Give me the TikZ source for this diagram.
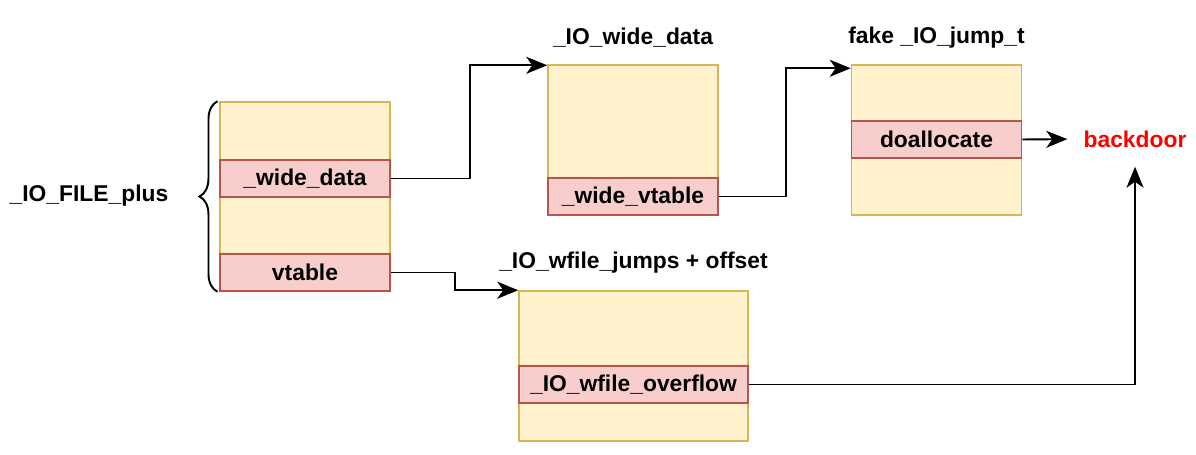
\documentclass[tikz,border=0pt]{standalone}
\usepackage{fontspec}
\setmainfont{Liberation Sans}
\usetikzlibrary{positioning, arrows.meta, decorations.pathreplacing}

\definecolor{structfill}{HTML}{FFF2CC}
\definecolor{structdraw}{HTML}{D6B656}
\definecolor{fieldfill}{HTML}{F8CECC}
\definecolor{fielddraw}{HTML}{B85450}

\begin{document}
\begin{tikzpicture}[
    x=0.02cm, y=-0.02cm,
    arrow/.style={
        -{Stealth[length=4.2mm, width=3.4mm, inset=1.2mm]},
        line width=1.1pt
    },
    struct/.style={
        rectangle,
        fill=structfill,
        draw=structdraw,
        line width=0.9pt,
        minimum width=3.4cm,
        minimum height=3.0cm
    },
    field/.style={
        rectangle,
        fill=fieldfill,
        draw=fielddraw,
        line width=0.9pt,
        minimum width=3.4cm,
        minimum height=0.74cm,
        font=\fontsize{13}{15}\selectfont\bfseries
    },
    title/.style={
        font=\fontsize{13}{15}\selectfont\bfseries
    },
    brace/.style={
        decorate,
        decoration={brace, amplitude=0.36cm},
        line width=1.1pt
    }
]
    \useasboundingbox (0,0) rectangle (1196,455);

    % _IO_FILE_plus
    \node[struct, minimum height=3.78cm] (file) at (305,196.5) {};
    \node[field] (widedata) at (305,178.5) {\_wide\_data};
    \node[field] (vtable) at (305,272.5) {vtable};
    \draw[brace] ([xshift=-1pt]file.south west) -- ([xshift=-1pt]file.north west);
    \node[title] (fileplus) at (89,196) {\_IO\_FILE\_plus};

    % _IO_wide_data
    \node[struct] (wdata) at (633,140) {};
    \node[field] (wvtable) at (633,196.5) {\_wide\_vtable};
    \node[title] (wdatatitle) at (633,38) {\_IO\_wide\_data};

    % fake _IO_jump_t
    \node[struct] (jump) at (936.5,140) {};
    \node[field] (doalloc) at (936.5,139.5) {doallocate};
    \node[title] (jumptitle) at (936.5,38) {fake \_IO\_jump\_t};

    % _IO_wfile_jumps + offset
    \node[struct, minimum width=4.58cm] (wfile) at (633.5,366) {};
    \node[field, minimum width=4.58cm] (overflow) at (633.5,384.5) {\_IO\_wfile\_overflow};
    \node[title] (wfiletitle) at (633.5,263) {\_IO\_wfile\_jumps + offset};

    \node[title, text=red, inner sep=0pt] (backdoor) at (1135,139) {backdoor};

    % Connections
    \draw[arrow] (widedata.east) -- ++(79,0) |- ([yshift=-0.6pt]wdata.north west);
    \draw[arrow] (wvtable.east) -- ++(67,0) |- ([yshift=-2.3pt]jump.north west);
    \draw[arrow] (vtable.east) -- ++(64,0) |- (wfile.north west);
    \draw[arrow, shorten >=0.32cm] (doalloc.east) -- (backdoor.west);
    \draw[arrow, shorten >=0.38cm] (overflow.east) -| (backdoor.south);

\end{tikzpicture}
\end{document}
